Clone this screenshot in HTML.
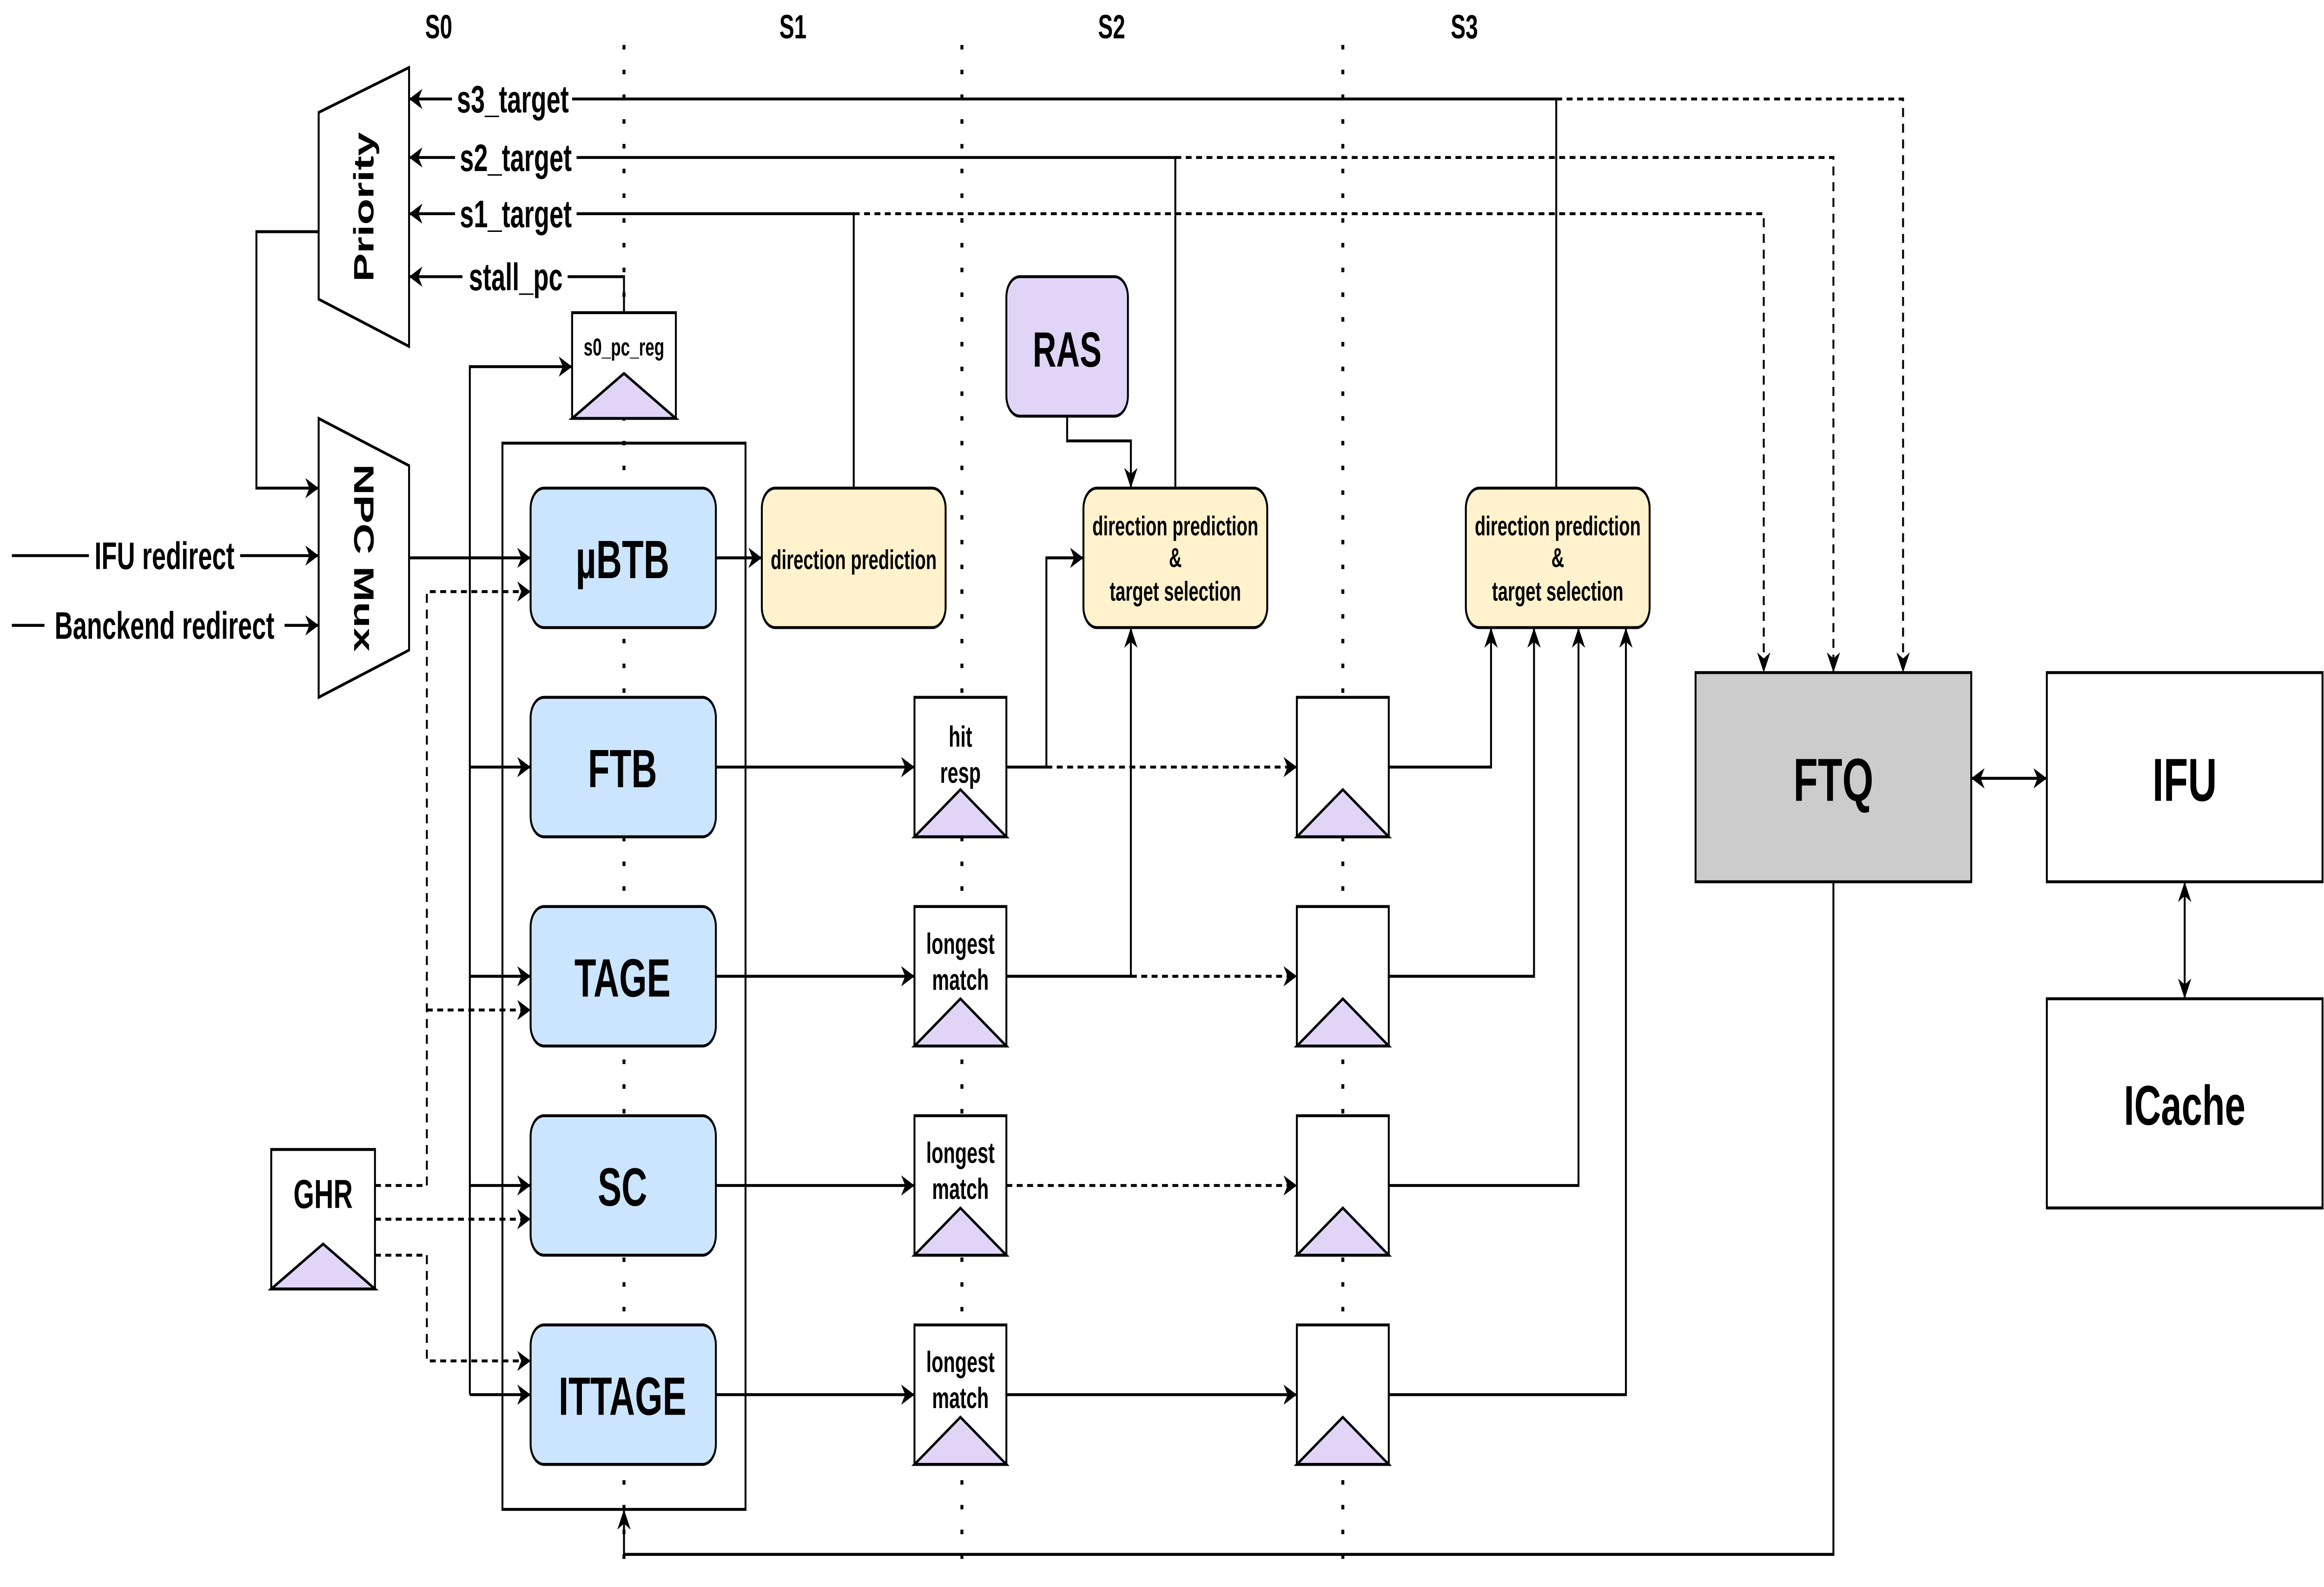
<!DOCTYPE html>
<html><head><meta charset="utf-8"><style>
html,body{margin:0;padding:0;background:#fff;overflow:hidden;width:100%;height:100%;}
svg{display:block;position:fixed;left:0;top:0;width:100vw;height:100vh;}
text{font-family:"Liberation Sans Narrow","Liberation Sans",sans-serif;font-weight:bold;fill:#000;}
.w{font-family:"Liberation Sans","DejaVu Sans",sans-serif;}
</style></head><body>
<svg viewBox="0 0 1568 705.5" preserveAspectRatio="none" xmlns="http://www.w3.org/2000/svg">
<defs>
<marker id="a" viewBox="0 0 10 10" refX="10" refY="5" markerWidth="9" markerHeight="9" markerUnits="userSpaceOnUse" orient="auto">
<path d="M0,0 L10,5 L0,10 L3,5 Z" fill="#000"/></marker>
<marker id="as" viewBox="0 0 10 10" refX="0" refY="5" markerWidth="9" markerHeight="9" markerUnits="userSpaceOnUse" orient="auto">
<path d="M10,0 L0,5 L10,10 L7,5 Z" fill="#000"/></marker>
</defs>
<rect width="1568" height="705.5" fill="#fff"/>
<g stroke="#000" stroke-width="1.3" fill="none">
<g stroke-width="2" stroke-dasharray="2 9">
<line x1="421" y1="20" x2="421" y2="700"/>
<line x1="649" y1="20" x2="649" y2="700"/>
<line x1="906" y1="20" x2="906" y2="700"/>
</g>
<rect x="339" y="197" width="164" height="474" fill="none"/>
</g>
<text x="296" y="17" font-size="15" text-anchor="middle">S0</text>
<text x="535" y="17" font-size="15" text-anchor="middle">S1</text>
<text x="750" y="17" font-size="15" text-anchor="middle">S2</text>
<text x="988" y="17" font-size="15" text-anchor="middle">S3</text>

<g stroke="#000" stroke-width="1.3" fill="none">
<polygon points="215,50 276,30 276,154 215,133" fill="#fff"/>
<polygon points="215,186 276,207 276,289 215,310" fill="#fff"/>
<polyline points="215,103 173,103 173,217 215,217" marker-end="url(#a)"/>
<line x1="8" y1="247" x2="60" y2="247"/>
<line x1="162" y1="247" x2="215" y2="247" marker-end="url(#a)"/>
<line x1="8" y1="278" x2="30" y2="278"/>
<line x1="192" y1="278" x2="215" y2="278" marker-end="url(#a)"/>
<line x1="305" y1="44" x2="276" y2="44" marker-end="url(#a)"/>
<line x1="307" y1="70" x2="276" y2="70" marker-end="url(#a)"/>
<line x1="307" y1="95" x2="276" y2="95" marker-end="url(#a)"/>
<line x1="312" y1="123" x2="276" y2="123" marker-end="url(#a)"/>
<polyline points="386,44 1050,44 1050,217"/>
<polyline points="389,70 793,70 793,217"/>
<polyline points="389,95 576,95 576,217"/>
<polyline points="383,123 421,123 421,139"/>
<g stroke-dasharray="4 3">
<polyline points="1050,44 1284,44 1284,299" marker-end="url(#a)"/>
<polyline points="793,70 1237,70 1237,299" marker-end="url(#a)"/>
<polyline points="576,95 1190,95 1190,299" marker-end="url(#a)"/>
</g>
<rect x="386" y="139" width="70" height="47" fill="#fff"/>
<polygon points="386,186 421,166 456,186" fill="#e1d5f7"/>
<line x1="276" y1="248" x2="358" y2="248" marker-end="url(#a)"/>
<polyline points="317,620 317,163 386,163" marker-end="url(#a)"/>
<line x1="317" y1="341" x2="358" y2="341" marker-end="url(#a)"/>
<line x1="317" y1="434" x2="358" y2="434" marker-end="url(#a)"/>
<line x1="317" y1="527" x2="358" y2="527" marker-end="url(#a)"/>
<line x1="317" y1="620" x2="358" y2="620" marker-end="url(#a)"/>
<g stroke-dasharray="4 3">
<polyline points="253,527 288,527 288,263 358,263" marker-end="url(#a)"/>
<line x1="288" y1="449" x2="358" y2="449" marker-end="url(#a)"/>
<line x1="253" y1="542" x2="358" y2="542" marker-end="url(#a)"/>
<polyline points="253,558 288,558 288,605 358,605" marker-end="url(#a)"/>
</g>
<rect x="183" y="511" width="70" height="62" fill="#fff"/>
<polygon points="183,573 218,553 253,573" fill="#e1d5f7"/>
<g fill="#cce5ff">
<rect x="358" y="217" width="125" height="62" rx="9"/>
<rect x="358" y="310" width="125" height="62" rx="9"/>
<rect x="358" y="403" width="125" height="62" rx="9"/>
<rect x="358" y="496" width="125" height="62" rx="9"/>
<rect x="358" y="589" width="125" height="62" rx="9"/>
</g>
<line x1="483" y1="248" x2="514" y2="248" marker-end="url(#a)"/>
<rect x="514" y="217" width="124" height="62" rx="9" fill="#fff2cc"/>
<line x1="483" y1="341" x2="617" y2="341" marker-end="url(#a)"/>
<line x1="483" y1="434" x2="617" y2="434" marker-end="url(#a)"/>
<line x1="483" y1="527" x2="617" y2="527" marker-end="url(#a)"/>
<line x1="483" y1="620" x2="617" y2="620" marker-end="url(#a)"/>
<g fill="#fff">
<rect x="617" y="310" width="62" height="62"/>
<rect x="617" y="403" width="62" height="62"/>
<rect x="617" y="496" width="62" height="62"/>
<rect x="617" y="589" width="62" height="62"/>
<rect x="875" y="310" width="62" height="62"/>
<rect x="875" y="403" width="62" height="62"/>
<rect x="875" y="496" width="62" height="62"/>
<rect x="875" y="589" width="62" height="62"/>
</g>
<g fill="#e1d5f7">
<polygon points="617,372 648,351 679,372"/>
<polygon points="617,465 648,444 679,465"/>
<polygon points="617,558 648,537 679,558"/>
<polygon points="617,651 648,630 679,651"/>
<polygon points="875,372 906,351 937,372"/>
<polygon points="875,465 906,444 937,465"/>
<polygon points="875,558 906,537 937,558"/>
<polygon points="875,651 906,630 937,651"/>
</g>
<polyline points="679,341 706,341 706,248 731,248" marker-end="url(#a)"/>
<polyline points="679,434 763,434 763,279" marker-end="url(#a)"/>
<line x1="679" y1="620" x2="875" y2="620" marker-end="url(#a)"/>
<g stroke-dasharray="4 3">
<line x1="706" y1="341" x2="875" y2="341" marker-end="url(#a)"/>
<line x1="763" y1="434" x2="875" y2="434" marker-end="url(#a)"/>
<line x1="679" y1="527" x2="875" y2="527" marker-end="url(#a)"/>
</g>
<rect x="679" y="123" width="82" height="62" rx="9" fill="#e1d5f7"/>
<polyline points="720,185 720,196 763,196 763,217" marker-end="url(#a)"/>
<rect x="731" y="217" width="124" height="62" rx="9" fill="#fff2cc"/>
<rect x="989" y="217" width="124" height="62" rx="9" fill="#fff2cc"/>
<polyline points="937,341 1006,341 1006,279" marker-end="url(#a)"/>
<polyline points="937,434 1035,434 1035,279" marker-end="url(#a)"/>
<polyline points="937,527 1065,527 1065,279" marker-end="url(#a)"/>
<polyline points="937,620 1097,620 1097,279" marker-end="url(#a)"/>
<rect x="1144" y="299" width="186" height="93" fill="#cccccc"/>
<rect x="1381" y="299" width="186" height="93" fill="#fff"/>
<rect x="1381" y="444" width="186" height="93" fill="#fff"/>
<line x1="1330" y1="346" x2="1381" y2="346" marker-start="url(#as)" marker-end="url(#a)"/>
<line x1="1474" y1="392" x2="1474" y2="444" marker-start="url(#as)" marker-end="url(#a)"/>
<polyline points="1237,392 1237,691 421,691 421,671" marker-end="url(#a)"/>
</g>

<text class="w" x="0" y="0" font-size="19" text-anchor="middle" transform="translate(252,92) rotate(-90)">Priority</text>
<text class="w" x="0" y="0" font-size="19" text-anchor="middle" transform="translate(239,248) rotate(90)">NPC Mux</text>
<text x="111" y="253" font-size="17" text-anchor="middle">IFU redirect</text>
<text x="111" y="284" font-size="17" text-anchor="middle">Banckend redirect</text>
<text x="346" y="50" font-size="17" text-anchor="middle">s3_target</text>
<text x="348" y="76" font-size="17" text-anchor="middle">s2_target</text>
<text x="348" y="101" font-size="17" text-anchor="middle">s1_target</text>
<text x="348" y="129" font-size="17" text-anchor="middle">stall_pc</text>
<text x="421" y="158" font-size="11" text-anchor="middle">s0_pc_reg</text>
<text x="218" y="537" font-size="18" text-anchor="middle">GHR</text>
<text class="w" x="420" y="257" font-size="24" text-anchor="middle">µBTB</text>
<text class="w" x="420" y="350" font-size="24" text-anchor="middle">FTB</text>
<text class="w" x="420" y="443" font-size="24" text-anchor="middle">TAGE</text>
<text class="w" x="420" y="536" font-size="24" text-anchor="middle">SC</text>
<text class="w" x="420" y="629" font-size="24" text-anchor="middle">ITTAGE</text>
<text x="576" y="253" font-size="12" text-anchor="middle">direction prediction</text>
<text x="648" y="332" font-size="13" text-anchor="middle">hit</text>
<text x="648" y="348" font-size="13" text-anchor="middle">resp</text>
<g font-size="13" text-anchor="middle">
<text x="648" y="424">longest</text><text x="648" y="440">match</text>
<text x="648" y="517">longest</text><text x="648" y="533">match</text>
<text x="648" y="610">longest</text><text x="648" y="626">match</text>
</g>
<text class="w" x="720" y="163" font-size="22" text-anchor="middle">RAS</text>
<g font-size="12" text-anchor="middle">
<text x="793" y="238">direction prediction</text><text x="793" y="252">&amp;</text><text x="793" y="267">target selection</text>
<text x="1051" y="238">direction prediction</text><text x="1051" y="252">&amp;</text><text x="1051" y="267">target selection</text>
</g>
<text class="w" x="1237" y="356" font-size="27" text-anchor="middle">FTQ</text>
<text class="w" x="1474" y="356" font-size="27" text-anchor="middle">IFU</text>
<text class="w" x="1474" y="500" font-size="25" text-anchor="middle">ICache</text>
</svg>
</body></html>
